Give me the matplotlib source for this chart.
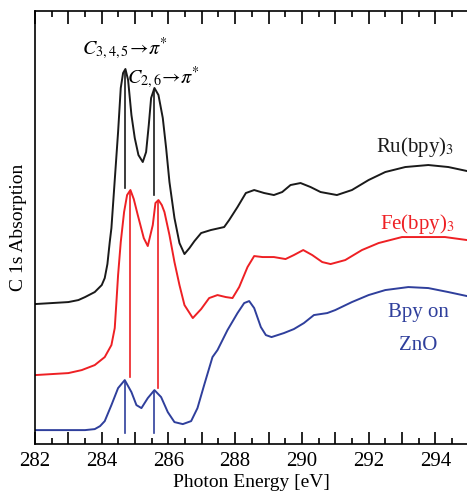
import numpy as np
import matplotlib
matplotlib.use("Agg")
import matplotlib.pyplot as plt
from matplotlib.ticker import MultipleLocator, FuncFormatter

plt.rcParams.update({"font.family": "Liberation Serif", "mathtext.fontset": "stix",
                     "font.size": 14})

BLACK = "#1a1a1a"
RED = "#ee2024"
BLUE = "#2f3f9c"

# photon energy [eV] / absorption (arb. units, offset traces)
e_ru = [282.0, 282.5, 283.0, 283.3, 283.5, 283.79, 284.0, 284.09, 284.17, 284.24,
        284.29, 284.39, 284.49, 284.57, 284.64, 284.71, 284.79, 284.89, 284.99, 285.1,
        285.23, 285.33, 285.41, 285.48, 285.58, 285.7, 285.83, 285.93, 286.03, 286.18,
        286.33, 286.48, 286.63, 286.78, 286.98, 287.27, 287.67, 287.82, 288.07, 288.32,
        288.57, 288.87, 289.16, 289.41, 289.66, 289.96, 290.26, 290.56, 291.05, 291.5,
        292.0, 292.5, 293.1, 293.79, 294.39, 294.95]
a_ru = [140, 141, 142, 144, 147, 152, 159, 166, 180, 202,
        216, 264, 312, 356, 371, 375, 364, 329, 306, 289,
        282, 292, 319, 346, 356, 349, 326, 296, 262, 226,
        201, 190, 196, 203, 211, 214, 217, 224, 237, 251,
        254, 251, 249, 252, 259, 261, 257, 252, 249, 254,
        264, 272, 277, 279, 277, 273]

e_fe = [282.0, 282.5, 283.0, 283.4, 283.79, 284.09, 284.29, 284.39, 284.44, 284.49,
        284.57, 284.67, 284.76, 284.86, 284.96, 285.08, 285.26, 285.38, 285.53, 285.61,
        285.7, 285.8, 285.88, 286.03, 286.18, 286.33, 286.48, 286.73, 286.98, 287.22,
        287.47, 287.72, 287.92, 288.12, 288.37, 288.57, 288.82, 289.16, 289.51, 289.76,
        290.04, 290.31, 290.61, 290.86, 291.3, 291.8, 292.3, 293.0, 293.69, 294.29,
        294.95]
a_fe = [69, 70, 71, 74, 79, 87, 99, 116, 142, 169,
        202, 232, 249, 254, 245, 229, 206, 198, 219, 241,
        244, 239, 232, 209, 182, 159, 139, 126, 135, 146,
        149, 147, 146, 157, 177, 188, 187, 187, 185, 189,
        194, 189, 182, 180, 184, 194, 201, 207, 207, 207,
        204]

e_zno = [282.0, 282.5, 283.0, 283.5, 283.79, 283.95, 284.09, 284.29, 284.49, 284.69,
         284.89, 285.04, 285.19, 285.38, 285.58, 285.78, 285.98, 286.18, 286.43, 286.68,
         286.87, 287.07, 287.32, 287.47, 287.77, 288.07, 288.27, 288.42, 288.57, 288.77,
         288.92, 289.09, 289.46, 289.76, 290.06, 290.36, 290.76, 291.0, 291.5, 292.0,
         292.5, 293.19, 293.79, 294.39, 294.95]
a_zno = [14, 14, 14, 14, 15, 18, 23, 39, 56, 64,
         52, 39, 36, 46, 54, 47, 32, 22, 20, 23,
         36, 59, 87, 94, 114, 131, 141, 143, 136, 117,
         109, 107, 111, 115, 121, 129, 131, 134, 142, 149,
         154, 157, 156, 152, 148]

# resonance markers: (energy, top, bottom)
peaks_ru = [(284.71, 373, 256), (285.58, 354, 249)]
peaks_fe = [(284.86, 252, 67), (285.68, 243, 56)]
peaks_zno = [(284.69, 63, 11), (285.58, 53, 11)]

fig = plt.figure(figsize=(4.67, 4.99), dpi=100)
ax = fig.add_axes([0.075, 0.110, 0.925, 0.868])

for e, a, c, pk in [(e_ru, a_ru, BLACK, peaks_ru), (e_fe, a_fe, RED, peaks_fe),
                    (e_zno, a_zno, BLUE, peaks_zno)]:
    ax.plot(e, a, color=c, lw=1.4)
    for x, top, bot in pk:
        ax.plot([x, x], [top, bot], color=c, lw=1.2)

ax.text(284.7, 395, r"$C_{3,4,5}\!\rightarrow\!\pi^{*}$", ha="center", va="center", fontsize=14.5)
ax.text(285.85, 366, r"$C_{2,6}\!\rightarrow\!\pi^{*}$", ha="center", va="center", fontsize=14.5)
ax.text(293.4, 297, r"Ru(bpy)$_3$", ha="center", va="center", color=BLACK, fontsize=15)
ax.text(293.45, 220, r"Fe(bpy)$_3$", ha="center", va="center", color=RED, fontsize=15)
ax.text(293.5, 132, "Bpy on", ha="center", va="center", color=BLUE, fontsize=15)
ax.text(293.5, 99, "ZnO", ha="center", va="center", color=BLUE, fontsize=15)

ax.set_xlim(282, 294.95)
ax.set_ylim(0, 433)
ax.xaxis.set_major_locator(MultipleLocator(1))
ax.xaxis.set_minor_locator(MultipleLocator(0.5))
ax.xaxis.set_major_formatter(FuncFormatter(lambda v, p: f"{v:.0f}" if round(v) % 2 == 0 else ""))
ax.tick_params(axis="x", which="both", direction="in", top=True, labelsize=15, width=1.2)
ax.tick_params(axis="x", which="major", length=9, pad=6)
ax.tick_params(axis="x", which="minor", length=4.5)
ax.set_yticks([])
ax.spines["right"].set_visible(False)
for s in ["left", "top", "bottom"]:
    ax.spines[s].set_linewidth(1.2)
ax.set_xlabel("Photon Energy [eV]", fontsize=14, labelpad=2)
ax.set_ylabel("C 1s Absorption", fontsize=14, labelpad=6)

fig.savefig("out.png", dpi=100)
